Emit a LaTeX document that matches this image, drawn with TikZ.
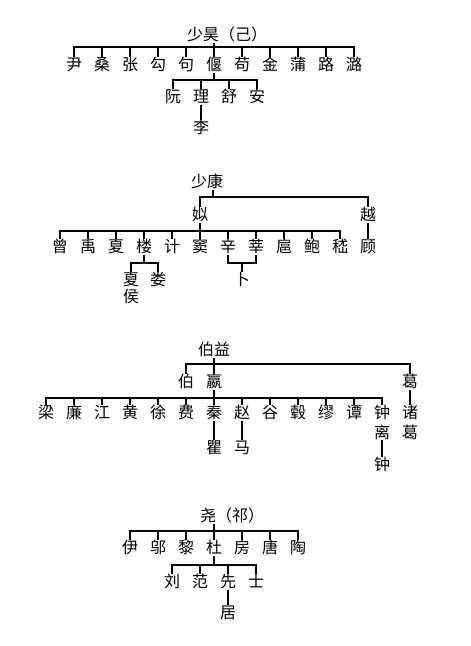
\documentclass[tikz,border=0pt]{standalone}
\usepackage{fontspec}
\newfontfamily\cjk{Noto Sans CJK SC}
\usetikzlibrary{positioning}
\tikzset{surname/.style={font=\cjk\fontsize{16}{18}\selectfont, inner sep=1.5pt, outer sep=0pt, text height=13.3pt, text depth=1.7pt}}
\tikzset{twoline/.style={font=\cjk\fontsize{16}{#1}\selectfont, inner sep=1.5pt, outer sep=0pt, align=center, anchor=north}}
\tikzset{tie/.style={line width=2.6pt, line cap=rect}}

\begin{document}
\begin{tikzpicture}[x=1pt,y=-1pt,node distance=9pt]
    \useasboundingbox[fill=white] (0,0) rectangle (471,646);

    % shaohao
    \node [surname] (shaohao) at (227,35) {少昊（己）};
    \coordinate (bar1) at (0,47);
    \node [surname] (yin) at (74,65) {尹};
    \node [surname, right=of yin] (sang) {桑};
    \node [surname, right=of sang] (zhang) {张};
    \node [surname, right=of zhang] (gou) {勾};
    \node [surname, right=of gou] (ju) {句};
    \node [surname, right=of ju] (yan) {偃};
    \node [surname, right=of yan] (gou2) {苟};
    \node [surname, right=of gou2] (jin) {金};
    \node [surname, right=of jin] (pu) {蒲};
    \node [surname, right=of pu] (lu) {路};
    \node [surname, right=of lu] (lu2) {潞};
    \coordinate (bar2) at (0,80);
    \node [surname] (ruan) at (173,97) {阮};
    \node [surname, right=of ruan] (li) {理};
    \node [surname, right=of li] (shu) {舒};
    \node [surname, right=of shu] (an) {安};
    \node [surname, below=13pt of li] (li2) {李};

    \draw[tie] (shaohao.south -| yan) -- (yan.north);
    \draw[tie] (yin |- bar1) -- (lu2 |- bar1);
    \foreach \c in {yin,sang,zhang,gou,ju,gou2,jin,pu,lu,lu2}
        \draw[tie] (\c |- bar1) -- (\c.north);
    \draw[tie] (yan.south) -- (yan |- bar2);
    \draw[tie] (ruan |- bar2) -- (an |- bar2);
    \foreach \c in {ruan,li,shu,an}
        \draw[tie] (\c |- bar2) -- (\c.north);
    \draw[tie] (li.south) -- (li2.north);

    % shaokang
    \node [surname] (shaokang) at (207,182) {少康};
    \coordinate (bar3) at (0,197);
    \node [surname] (si) at (200,215) {姒};
    \node [surname] (yue) at (368,215) {越};
    \coordinate (bar4) at (0,231);
    \node [surname] (zeng) at (60,247) {曾};
    \node [surname, right=of zeng] (yu) {禹};
    \node [surname, right=of yu] (xia) {夏};
    \node [surname, right=of xia] (lou) {楼};
    \node [surname, right=of lou] (ji) {计};
    \node [surname, right=of ji] (dou) {窦};
    \node [surname, right=of dou] (xin) {辛};
    \node [surname, right=of xin] (shen) {莘};
    \node [surname, right=of shen] (hu) {扈};
    \node [surname, right=of hu] (bao) {鲍};
    \node [surname, right=of bao] (ji2) {嵇};
    \node [surname, right=of ji2] (gu) {顾};
    \coordinate (bar5) at (0,263);
    \node [twoline=17] (xiahou) at (131,271) {夏\\侯};
    \node [surname] (lou2) at (158,280) {娄};
    \node [surname] (bu) at (242,280) {卜};

    \draw[tie] ([xshift=6pt]shaokang.south) -- ([xshift=6pt]shaokang.south |- bar3);
    \draw[tie] (si |- bar3) -- (yue |- bar3);
    \draw[tie] (si |- bar3) -- (si.north);
    \draw[tie] (yue |- bar3) -- (yue.north);
    \draw[tie] (si.south) -- (dou.north);
    \draw[tie] (zeng |- bar4) -- (ji2 |- bar4);
    \foreach \c in {zeng,yu,xia,lou,ji,xin,shen,hu,bao,ji2}
        \draw[tie] (\c |- bar4) -- (\c.north);
    \draw[tie] (yue.south) -- (gu.north);
    \draw[tie] (lou.south) -- (lou |- bar5);
    \draw[tie] (xiahou |- bar5) -- (lou2 |- bar5);
    \draw[tie] (xiahou |- bar5) -- (xiahou.north);
    \draw[tie] (lou2 |- bar5) -- (lou2.north);
    \draw[tie] (xin.south) -- (xin |- bar5) -- (shen |- bar5) -- (shen.south);
    \draw[tie] (bu |- bar5) -- (bu.north);

    % boyi
    \node [surname] (boyi) at (214,350) {伯益};
    \coordinate (bar6) at (0,364);
    \node [surname] (bo) at (186,382) {伯};
    \node [surname, right=of bo] (ying) {嬴};
    \node [surname] (ge) at (410,382) {葛};
    \coordinate (bar7) at (0,398);
    \node [surname] (liang) at (46,413) {梁};
    \node [surname, right=of liang] (lian) {廉};
    \node [surname, right=of lian] (jiang) {江};
    \node [surname, right=of jiang] (huang) {黄};
    \node [surname, right=of huang] (xu) {徐};
    \node [surname, right=of xu] (fei) {费};
    \node [surname, right=of fei] (qin) {秦};
    \node [surname, right=of qin] (zhao) {赵};
    \node [surname, right=of zhao] (gu2) {谷};
    \node [surname, right=of gu2] (gu3) {毂};
    \node [surname, right=of gu3] (miao) {缪};
    \node [surname, right=of miao] (tan) {谭};
    \node [twoline=20] (zhongli) at (382,404) {钟\\离};
    \node [twoline=20] (zhuge) at (410,404) {诸\\葛};
    \node [surname] (qu) at (214,448) {瞿};
    \node [surname] (ma) at (242,448) {马};
    \node [surname] (zhong) at (382,465) {钟};

    \draw[tie] (boyi.south) -- (ying.north);
    \draw[tie] (bo |- bar6) -- (ge |- bar6);
    \draw[tie] (bo |- bar6) -- (bo.north);
    \draw[tie] (ge |- bar6) -- (ge.north);
    \draw[tie] (ying.south) -- (qin.north);
    \draw[tie] (liang |- bar7) -- (zhongli |- bar7);
    \foreach \c in {liang,lian,jiang,huang,xu,fei,zhao,gu2,gu3,miao,tan,zhongli}
        \draw[tie] (\c |- bar7) -- (\c.north);
    \draw[tie] (ge.south) -- (zhuge.north);
    \draw[tie] (qin.south) -- (qu.north);
    \draw[tie] (zhao.south) -- (ma.north);
    \draw[tie] (zhongli.south) -- (zhong.north);

    % yao
    \node [surname] (yao) at (232,516) {尧（祁）};
    \coordinate (bar8) at (0,531);
    \node [surname] (yi) at (130,548) {伊};
    \node [surname, right=of yi] (wu) {邬};
    \node [surname, right=of wu] (li3) {黎};
    \node [surname, right=of li3] (du) {杜};
    \node [surname, right=of du] (fang) {房};
    \node [surname, right=of fang] (tang) {唐};
    \node [surname, right=of tang] (tao) {陶};
    \coordinate (bar9) at (0,565);
    \node [surname] (liu) at (172,582) {刘};
    \node [surname, right=of liu] (fan) {范};
    \node [surname, right=of fan] (xian) {先};
    \node [surname, right=of xian] (shi) {士};
    \node [surname, below=13pt of xian] (ju2) {居};

    \draw[tie] (yao.south -| du) -- (du.north);
    \draw[tie] (yi |- bar8) -- (tao |- bar8);
    \foreach \c in {yi,wu,li3,fang,tang,tao}
        \draw[tie] (\c |- bar8) -- (\c.north);
    \draw[tie] (du.south) -- (du |- bar9);
    \draw[tie] (liu |- bar9) -- (shi |- bar9);
    \foreach \c in {liu,fan,xian,shi}
        \draw[tie] (\c |- bar9) -- (\c.north);
    \draw[tie] (xian.south) -- (ju2.north);
\end{tikzpicture}
\end{document}
